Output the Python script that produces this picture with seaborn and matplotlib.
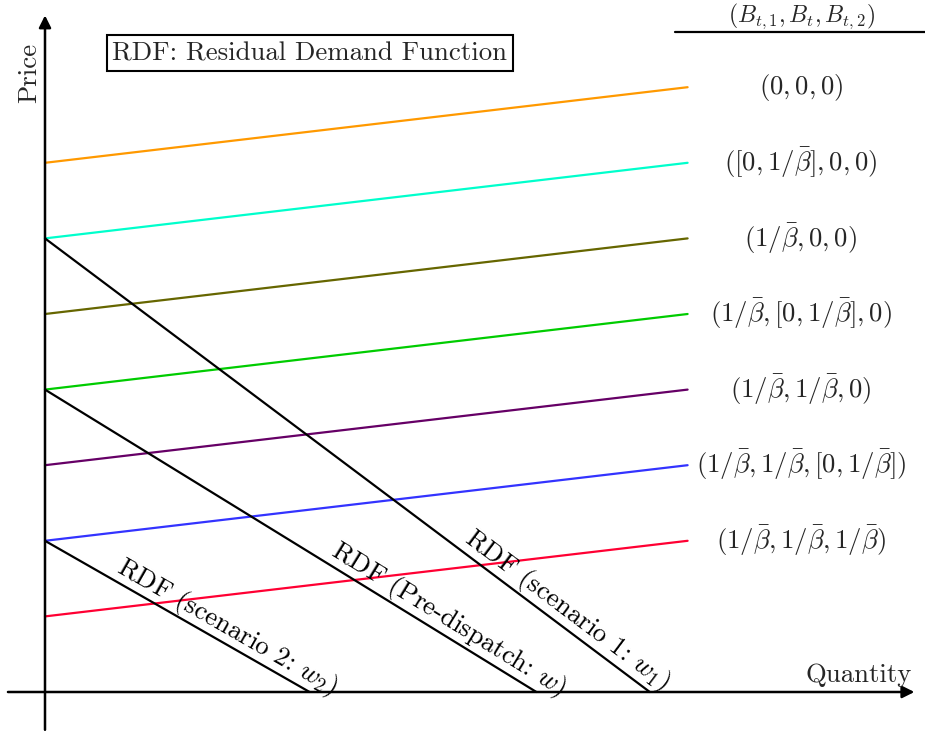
import numpy as np
import pandas as pd
import matplotlib
matplotlib.use("Agg")
import matplotlib.pyplot as plt
import seaborn as sns

# ---------------- data ----------------
supply_x = [0.0, 8.5]
supply_start = [7, 6, 5, 4, 3, 2, 1]
supply_end = [8, 7, 6, 5, 4, 3, 2]
supply_labels = [
    r"$(0,0,0)$",
    r"$([0,1/\bar{\beta}],0,0)$",
    r"$(1/\bar{\beta},0,0)$",
    r"$(1/\bar{\beta},[0,1/\bar{\beta}],0)$",
    r"$(1/\bar{\beta},1/\bar{\beta},0)$",
    r"$(1/\bar{\beta},1/\bar{\beta},[0,1/\bar{\beta}])$",
    r"$(1/\bar{\beta},1/\bar{\beta},1/\bar{\beta})$",
]
supply_colors = ["#FF9900", "#00FFCC", "#666600", "#00CC00", "#660066", "#3333FF", "#FF0033"]

rdf_names = ["RDF (scenario 1: $w_1$)", "RDF (Pre-dispatch: $w$)", "RDF (scenario 2: $w_2$)"]
rdf_price_intercept = [6, 4, 2]
rdf_quantity_intercept = [8.0, 6.5, 3.5]
rdf_label_x = [6.78, 5.22, 2.31]

header = r"$(B_{t,1},B_t,B_{t,2})$"
legend_box = "RDF: Residual Demand Function"

# ---------------- style ----------------
sns.set_theme(style="white")
plt.rcParams["font.family"] = ["cmr10", "DejaVu Serif"]
plt.rcParams["mathtext.fontset"] = "cm"
plt.rcParams["axes.formatter.use_mathtext"] = True

fig = plt.figure(figsize=(9.25, 7.34), dpi=100)
ax = fig.add_axes([0, 0, 1, 1])
ax.set_xlim(-45 / 75.6, 880 / 75.6)
ax.set_ylim(-42 / 75.6, 692 / 75.6)
ax.axis("off")

FS = 19.3

# supply lines
rows = []
for lab, s, e in zip(supply_labels, supply_start, supply_end):
    rows.append({"q": supply_x[0], "p": s, "state": lab})
    rows.append({"q": supply_x[1], "p": e, "state": lab})
df_s = pd.DataFrame(rows)
sns.lineplot(data=df_s, x="q", y="p", hue="state", hue_order=supply_labels,
             palette=supply_colors, legend=False, linewidth=1.6, ax=ax, sort=False)

# RDF lines
rows = []
for n, p0, q0 in zip(rdf_names, rdf_price_intercept, rdf_quantity_intercept):
    rows.append({"q": 0.0, "p": p0, "rdf": n})
    rows.append({"q": q0, "p": 0.0, "rdf": n})
df_r = pd.DataFrame(rows)
sns.lineplot(data=df_r, x="q", y="p", hue="rdf", hue_order=rdf_names,
             palette=["black"] * 3, legend=False, linewidth=1.6, ax=ax, sort=False)

# RDF labels along lines
for n, p0, q0, lx in zip(rdf_names, rdf_price_intercept, rdf_quantity_intercept, rdf_label_x):
    slope = -p0 / q0
    ly = p0 + slope * lx
    ang = np.degrees(np.arctan(slope))
    ax.text(lx, ly, n, rotation=ang, rotation_mode="anchor", ha="center", va="bottom",
            fontsize=FS, color="black", transform_rotates_text=True)

# state labels
for lab, e in zip(supply_labels, supply_end):
    ax.text(10.0, e, lab, ha="center", va="center", fontsize=FS)

ax.text(10.0, 9.135, header, ha="center", va="top", fontsize=17)
ax.plot([8.33, 11.7], [8.73, 8.73], color="black", linewidth=1.6)

# axes arrows
ax.annotate("", xy=(11.5, 0), xytext=(-0.49, 0),
            arrowprops=dict(arrowstyle="-|>", color="black", lw=1.8, mutation_scale=18,
                            shrinkA=0, shrinkB=0))
ax.annotate("", xy=(0, 8.95), xytext=(0, -0.5),
            arrowprops=dict(arrowstyle="-|>", color="black", lw=1.8, mutation_scale=18,
                            shrinkA=0, shrinkB=0))
ax.text(11.47, 0.06, "Quantity", ha="right", va="bottom", fontsize=FS)
ax.text(-0.21, 8.19, "Price", ha="center", va="center", rotation=90, fontsize=FS)

ax.text(3.505, 8.45, legend_box, ha="center", va="center", fontsize=FS,
        bbox=dict(boxstyle="square,pad=0.22", fc="white", ec="black", lw=1.5))

fig.savefig("out.png", dpi=100)
